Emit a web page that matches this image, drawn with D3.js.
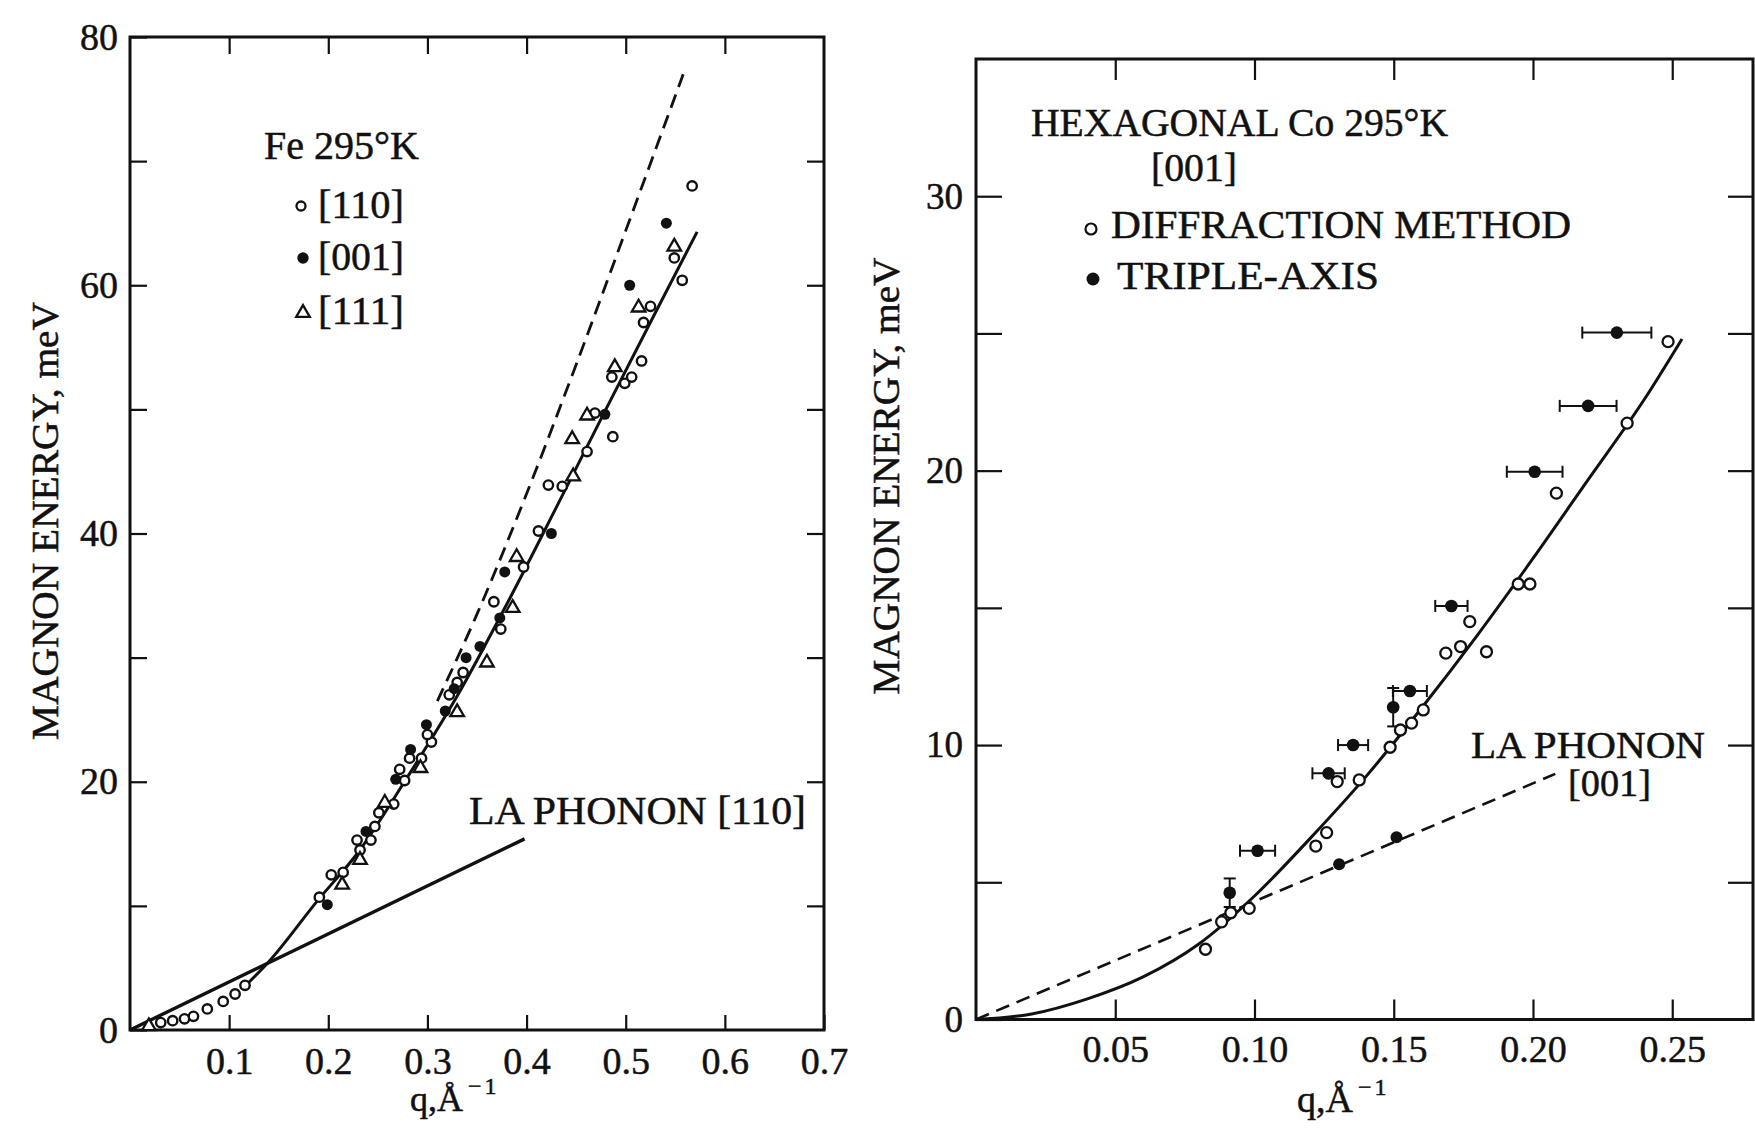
<!DOCTYPE html>
<html><head><meta charset="utf-8">
<script src="https://cdn.jsdelivr.net/npm/d3@7"></script>
<style>
html,body{margin:0;padding:0;background:#fff;}
svg text{font-family:"Liberation Serif","Times New Roman",serif;fill:#111;stroke:#111;stroke-width:0.5;}
</style></head><body>
<svg id="c" width="1755" height="1133"></svg>
<script>
// ================= DATA: Fe 295 K (left panel) =================
const feXTicks = [0.1, 0.2, 0.3, 0.4, 0.5, 0.6, 0.7];
const feYTicks = [0, 10, 20, 30, 40, 50, 60, 70, 80];
// open circles [110]
const fe110 = [[0.031,0.6],[0.043,0.75],[0.055,0.9],[0.064,1.1],[0.078,1.7],[0.094,2.3],[0.106,2.9],[0.116,3.6],
  [0.191,10.7],[0.203,12.5],[0.215,12.7],[0.232,14.5],[0.229,15.3],[0.243,15.3],[0.247,16.4],[0.251,17.5],
  [0.266,18.2],[0.272,21.0],[0.277,20.1],[0.282,21.9],[0.294,21.9],[0.304,23.2],[0.300,23.8],[0.322,27.0],
  [0.330,28.0],[0.336,28.8],[0.374,32.3],[0.367,34.5],[0.397,37.3],[0.412,40.2],[0.422,43.9],[0.436,43.8],
  [0.461,46.6],[0.487,47.8],[0.469,49.7],[0.486,52.6],[0.499,52.1],[0.506,52.6],[0.516,53.9],[0.518,57.0],
  [0.525,58.3],[0.549,62.2],[0.557,60.4],[0.567,68.0]];
// filled circles [001]
const fe001 = [[0.199,10.1],[0.238,16.0],[0.268,20.2],[0.283,22.6],[0.299,24.6],[0.318,25.7],[0.327,27.5],
  [0.339,30.0],[0.353,30.9],[0.373,33.2],[0.378,36.9],[0.425,40.0],[0.479,49.6],[0.504,60.0],[0.541,65.0]];
// triangles [111]
const fe111 = [[0.019,0.3],[0.214,11.7],[0.232,13.7],[0.257,18.3],[0.293,21.1],[0.330,25.6],[0.360,29.6],
  [0.386,34.0],[0.390,38.1],[0.447,44.6],[0.446,47.6],[0.461,49.5],[0.489,53.4],[0.513,58.2],[0.549,63.1]];
const feMagnonFit = [[0.113,3.3],[0.14,5.5],[0.19,10.5],[0.23,14.3],[0.28,20.4],[0.33,26.9],[0.38,34.3],
  [0.43,42.1],[0.48,50.0],[0.53,57.8],[0.572,64.3]];
const feDashedFit = [[0.31,26.5],[0.35,33.5],[0.40,43.2],[0.45,53.6],[0.50,64.4],[0.558,77.0]];
const fePhononLA = [[0,0],[0.398,15.4]];

// ================= DATA: hexagonal Co 295 K (right panel) =================
const coXTicks = [0.05, 0.10, 0.15, 0.20, 0.25];
const coYTicks = [0, 5, 10, 15, 20, 25, 30];
const coDiffraction = [[0.0824,2.56],[0.0882,3.56],[0.0915,3.89],[0.0981,4.05],[0.122,6.32],[0.1259,6.81],
  [0.1297,8.67],[0.1376,8.73],[0.1487,9.92],[0.1524,10.55],[0.1564,10.8],[0.1606,11.28],[0.1687,13.35],
  [0.1740,13.59],[0.1773,14.5],[0.1833,13.4],[0.1947,15.87],[0.1989,15.87],[0.2084,19.18],[0.2338,21.73],
  [0.2485,24.7]];
// triple-axis: [q, E, q half-error, E half-error]
const coTripleAxis = [[0.0911,4.62,0,0.52],[0.1011,6.15,0.0063,0],[0.1266,8.97,0.0058,0],[0.1354,10.0,0.0054,0],
  [0.1498,11.38,0,0.7],[0.1558,11.97,0.0061,0],[0.1707,15.07,0.0058,0],[0.2006,19.96,0.010,0],
  [0.2198,22.36,0.0102,0],[0.2301,25.03,0.0124,0]];
const coPhononPoints = [[0.1304,5.66],[0.151,6.64]];
const coMagnonFit = [[0,0],[0.02,0.2],[0.04,0.75],[0.06,1.55],[0.08,2.75],[0.10,4.5],[0.12,6.6],[0.14,8.85],
  [0.16,11.35],[0.18,14.0],[0.20,16.8],[0.22,19.7],[0.24,22.6],[0.2535,24.8]];
const coPhononLA = [[0,0],[0.208,8.95]];

// ================= DRAWING =================
const svg = d3.select("#c");
svg.append("rect").attr("width",1755).attr("height",1133).attr("fill","#fff");

function styleAxis(g, fs){
  g.select(".domain").remove();
  g.selectAll(".tick line").attr("stroke","#111").attr("stroke-width",2.2);
  g.selectAll(".tick text").attr("font-size",fs).attr("fill","#111")
    .style("font-family",'"Liberation Serif","Times New Roman",serif');
}
function txt(g, s, x, y, fs, w, anchor){
  const t = g.append("text").attr("x",x).attr("y",y).attr("font-size",fs)
    .attr("text-anchor",anchor||"start").text(s);
  if (w) t.attr("textLength",w).attr("lengthAdjust","spacingAndGlyphs");
  return t;
}

// ---------- Left panel ----------
const L = svg.append("g");
const x1 = d3.scaleLinear().domain([0,0.7]).range([130,824]);
const y1 = d3.scaleLinear().domain([0,80]).range([1030,37]);

L.append("g").attr("transform",`translate(${x1(0)},0)`)
  .call(d3.axisLeft(y1).tickValues(feYTicks).tickSize(-17).tickPadding(12).tickFormat(d => d%20===0 ? d : ""))
  .call(g=>styleAxis(g,38));
L.append("g").attr("transform",`translate(${x1(0.7)},0)`)
  .call(d3.axisRight(y1).tickValues(feYTicks.slice(1,-1)).tickSize(-17).tickFormat(""))
  .call(g=>styleAxis(g,38));
L.append("g").attr("transform",`translate(0,${y1(0)})`)
  .call(d3.axisBottom(x1).tickValues(feXTicks).tickSize(-15).tickPadding(17).tickFormat(d3.format(".1f")))
  .call(g=>styleAxis(g,38));
L.append("g").attr("transform",`translate(0,${y1(80)})`)
  .call(d3.axisTop(x1).tickValues(feXTicks.slice(0,-1)).tickSize(-17).tickFormat(""))
  .call(g=>styleAxis(g,38));
L.append("rect").attr("x",x1(0)).attr("y",y1(80)).attr("width",x1(0.7)-x1(0)).attr("height",y1(0)-y1(80))
  .attr("fill","none").attr("stroke","#111").attr("stroke-width",3);

const line1 = d3.line().x(d=>x1(d[0])).y(d=>y1(d[1]));
L.append("path").datum(fePhononLA).attr("d",line1).attr("fill","none").attr("stroke","#111").attr("stroke-width",3.4);
L.append("path").datum(feMagnonFit).attr("d",line1.curve(d3.curveMonotoneX)).attr("fill","none").attr("stroke","#111").attr("stroke-width",3);
L.append("path").datum(feDashedFit).attr("d",line1.curve(d3.curveMonotoneX)).attr("fill","none").attr("stroke","#111")
  .attr("stroke-width",2.8).attr("stroke-dasharray","14,8");

L.selectAll(".o110").data(fe110).join("circle").attr("cx",d=>x1(d[0])).attr("cy",d=>y1(d[1])).attr("r",4.7)
  .attr("fill","#fff").attr("stroke","#111").attr("stroke-width",2.4);
const tri = d3.symbol().type(d3.symbolTriangle).size(80);
L.selectAll(".t111").data(fe111).join("path").attr("d",tri)
  .attr("transform",d=>`translate(${x1(d[0])},${y1(d[1])})`).attr("fill","#fff").attr("stroke","#111").attr("stroke-width",2.3);
L.selectAll(".f001").data(fe001).join("circle").attr("cx",d=>x1(d[0])).attr("cy",d=>y1(d[1])).attr("r",5.5).attr("fill","#111");

// left legend & labels
txt(L,"Fe 295°K",264,159,40,155);
L.append("circle").attr("cx",301).attr("cy",206).attr("r",4.5).attr("fill","#fff").attr("stroke","#111").attr("stroke-width",2.3);
txt(L,"[110]",318,218,40,86);
L.append("circle").attr("cx",303).attr("cy",258).attr("r",5.7).attr("fill","#111");
txt(L,"[001]",318,270,40,86);
L.append("path").attr("d",tri).attr("transform","translate(303,313)").attr("fill","#fff").attr("stroke","#111").attr("stroke-width",2.3);
txt(L,"[111]",318,324,40,86);
txt(L,"LA PHONON [110]",469,824,40,337);
txt(L,"MAGNON ENERGY, meV",0,0,38,438,"middle").attr("transform","translate(58,521) rotate(-90)");
const xl1 = L.append("text").attr("x",410).attr("y",1111).attr("font-size",36);
xl1.append("tspan").text("q,Å");
xl1.append("tspan").attr("dx",5).attr("dy",-17).attr("font-size",24).attr("letter-spacing",3).text("−1");

// ---------- Right panel ----------
const R = svg.append("g");
const x2 = d3.scaleLinear().domain([0,0.279]).range([976,1753]);
const y2 = d3.scaleLinear().domain([0,35]).range([1019.5,59]);

R.append("g").attr("transform",`translate(${x2(0)},0)`)
  .call(d3.axisLeft(y2).tickValues(coYTicks).tickSize(-26).tickPadding(13).tickFormat(d => d%10===0 ? d : ""))
  .call(g=>styleAxis(g,37));
R.append("g").attr("transform",`translate(${x2(0.279)},0)`)
  .call(d3.axisRight(y2).tickValues(coYTicks.slice(1)).tickSize(-25).tickFormat(""))
  .call(g=>styleAxis(g,37));
R.append("g").attr("transform",`translate(0,${y2(0)})`)
  .call(d3.axisBottom(x2).tickValues(coXTicks).tickSize(-20).tickPadding(16).tickFormat(d3.format(".2f")))
  .call(g=>styleAxis(g,38));
R.append("g").attr("transform",`translate(0,${y2(35)})`)
  .call(d3.axisTop(x2).tickValues(coXTicks).tickSize(-21).tickFormat(""))
  .call(g=>styleAxis(g,37));
R.append("rect").attr("x",x2(0)).attr("y",y2(35)).attr("width",x2(0.279)-x2(0)).attr("height",y2(0)-y2(35))
  .attr("fill","none").attr("stroke","#111").attr("stroke-width",3);

const line2 = d3.line().x(d=>x2(d[0])).y(d=>y2(d[1]));
R.append("path").datum(coPhononLA).attr("d",line2).attr("fill","none").attr("stroke","#111")
  .attr("stroke-width",2.6).attr("stroke-dasharray","14,8");
R.append("path").datum(coMagnonFit).attr("d",line2.curve(d3.curveMonotoneX)).attr("fill","none").attr("stroke","#111").attr("stroke-width",3);

// error bars
const eb = R.append("g").attr("stroke","#111").attr("stroke-width",2);
coTripleAxis.forEach(d=>{
  if (d[2]>0){
    const xa=x2(d[0]-d[2]), xb=x2(d[0]+d[2]), yy=y2(d[1]);
    eb.append("line").attr("x1",xa).attr("x2",xb).attr("y1",yy).attr("y2",yy);
    eb.append("line").attr("x1",xa).attr("x2",xa).attr("y1",yy-6).attr("y2",yy+6);
    eb.append("line").attr("x1",xb).attr("x2",xb).attr("y1",yy-6).attr("y2",yy+6);
  }
  if (d[3]>0){
    const ya=y2(d[1]-d[3]), yb=y2(d[1]+d[3]), xx=x2(d[0]);
    eb.append("line").attr("x1",xx).attr("x2",xx).attr("y1",ya).attr("y2",yb);
    eb.append("line").attr("x1",xx-6).attr("x2",xx+6).attr("y1",ya).attr("y2",ya);
    eb.append("line").attr("x1",xx-6).attr("x2",xx+6).attr("y1",yb).attr("y2",yb);
  }
});
R.selectAll(".dif").data(coDiffraction).join("circle").attr("cx",d=>x2(d[0])).attr("cy",d=>y2(d[1])).attr("r",5.5)
  .attr("fill","#fff").attr("stroke","#111").attr("stroke-width",2.3);
R.selectAll(".tri").data(coTripleAxis).join("circle").attr("cx",d=>x2(d[0])).attr("cy",d=>y2(d[1])).attr("r",6.3).attr("fill","#111");
R.selectAll(".pho").data(coPhononPoints).join("circle").attr("cx",d=>x2(d[0])).attr("cy",d=>y2(d[1])).attr("r",6).attr("fill","#111");

// right legend & labels
txt(R,"HEXAGONAL Co 295°K",1031,136,40,417);
txt(R,"[001]",1151,181,39,86);
R.append("circle").attr("cx",1091).attr("cy",229).attr("r",5.5).attr("fill","#fff").attr("stroke","#111").attr("stroke-width",2.2);
txt(R,"DIFFRACTION METHOD",1111,238,39,460);
R.append("circle").attr("cx",1093).attr("cy",279).attr("r",6.5).attr("fill","#111");
txt(R,"TRIPLE-AXIS",1117,289,39,262);
txt(R,"LA PHONON",1471,758,37,234);
txt(R,"[001]",1568,796,37,83);
txt(R,"MAGNON ENERGY, meV",0,0,38,437,"middle").attr("transform","translate(899,476) rotate(-90)");
const xl2 = R.append("text").attr("x",1297).attr("y",1112).attr("font-size",38);
xl2.append("tspan").text("q,Å");
xl2.append("tspan").attr("dx",5).attr("dy",-17).attr("font-size",24).attr("letter-spacing",3).text("−1");
</script>
</body></html>
